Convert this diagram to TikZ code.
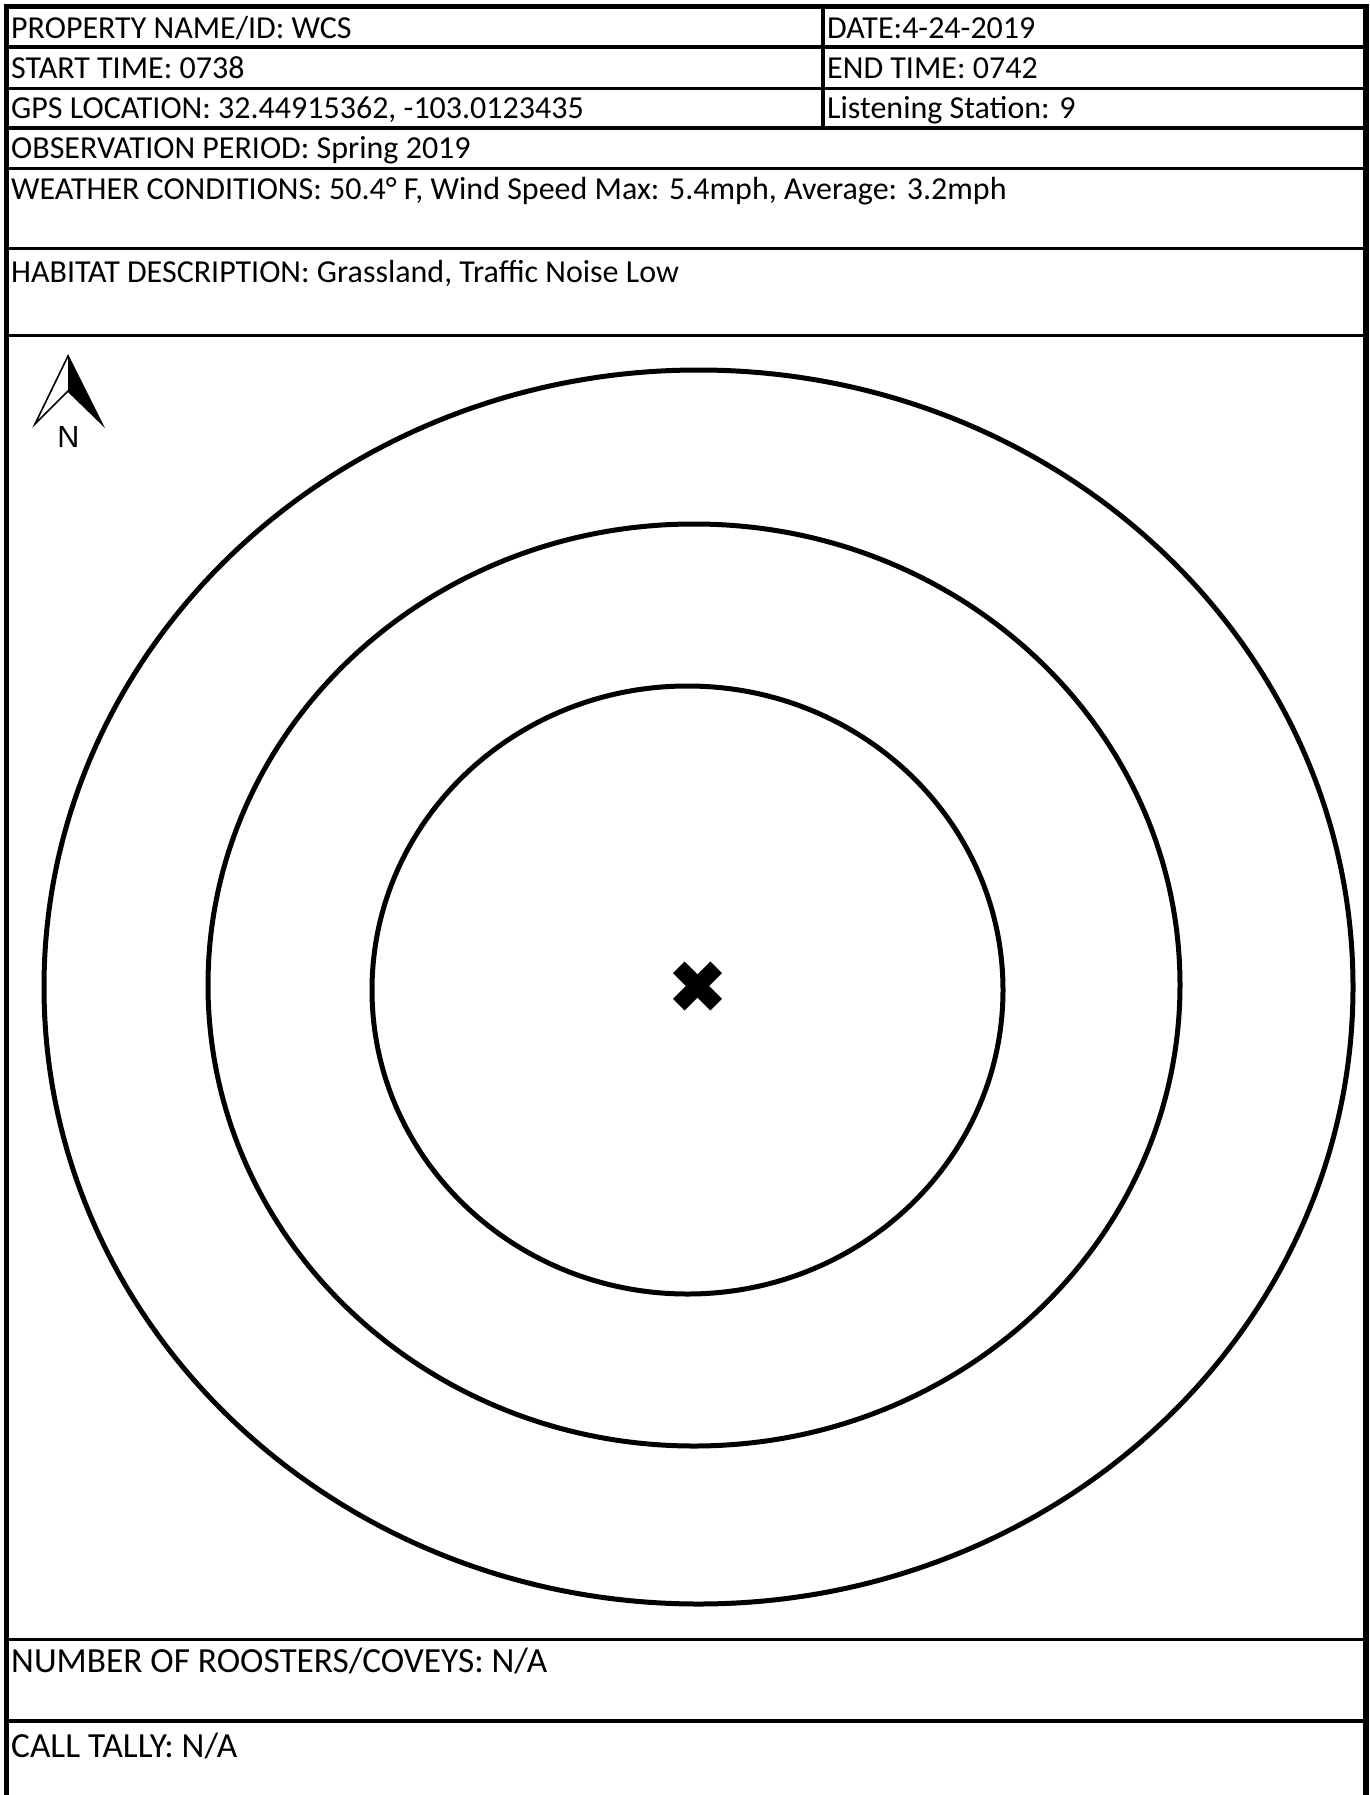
\documentclass[tikz,border=0pt]{standalone}
\usepackage{fontspec}
\setmainfont{Carlito}
\newfontfamily\arrowfont{Liberation Sans}
\begin{document}
\begin{tikzpicture}[x=1pt,y=-1pt,
  celltext/.style={anchor=base west,inner sep=0pt,font=\fontsize{32}{37}\selectfont},
  bigtext/.style={anchor=base west,inner sep=0pt,font=\fontsize{35.3}{41}\selectfont},
  ring/.style={draw,line width=5pt},
  rule/.style={line width=3.3pt},
  frame/.style={line width=5.3pt}]
\useasboundingbox (0,0) rectangle (1369,1795);
% outer frame
\draw[frame,line join=miter] (6.7,1810) -- (6.7,6.7) -- (1366,6.7) -- (1366,1810);
% row rules
\foreach \yy in {47,88.2,128,168.8,248.7,335.2,1639.5,1721}
  \draw[rule] (6.7,\yy) -- (1366,\yy);
\draw[rule] (823,6.7) -- (823,128);
% texts
\node[celltext] (prop) at (11,38.3) {PROPERTY NAME/ID: WCS};
\node[celltext] (date) at (827,38.3) {DATE:4-24-2019};
\node[celltext] (start) at (11,79) {START TIME: 0738};
\node[celltext] (end) at (827,79) {END TIME: 0742};
\node[celltext] (gps) at (11,118.5) {GPS LOCATION: 32.44915362, -103.0123435};
\node[celltext] (ls) at (827,118.5) {Listening Station: 9};
\node[celltext] (obs) at (11,159) {OBSERVATION PERIOD: Spring 2019};
\node[celltext] (wx) at (11,200) {WEATHER CONDITIONS: 50.4° F, Wind Speed Max: 5.4mph, Average: 3.2mph};
\node[celltext] (hab) at (11,283) {HABITAT DESCRIPTION: Grassland, Traffic Noise Low};
\node[bigtext] (roost) at (11,1672) {NUMBER OF ROOSTERS/COVEYS: N/A};
\node[bigtext] (tally) at (11,1757) {CALL TALLY: N/A};
% rings
\draw[ring] (698.5,987) ellipse [x radius=654.5,y radius=617];
\draw[ring] (694,985) ellipse [x radius=486,y radius=461];
\draw[ring] (687.5,990) ellipse [x radius=315.5,y radius=304];
% centre mark
\coordinate (ctr) at (697.5,986);
\draw[line width=16.5pt] ([shift={(-18.7,-18.7)}]ctr) -- ([shift={(18.7,18.7)}]ctr);
\draw[line width=16.5pt] ([shift={(-18.7,18.7)}]ctr) -- ([shift={(18.7,-18.7)}]ctr);
% north arrow
\fill (68,356) -- (68,391) -- (102,424) -- cycle;
\draw[line width=1.6pt,line join=miter] (68,356) -- (35,424) -- (68,391) -- (102,424) -- cycle;
\node[anchor=base,inner sep=0pt,font=\arrowfont\fontsize{30.5}{31}\selectfont] (north) at (68.5,447) {N};
\end{tikzpicture}
\end{document}
